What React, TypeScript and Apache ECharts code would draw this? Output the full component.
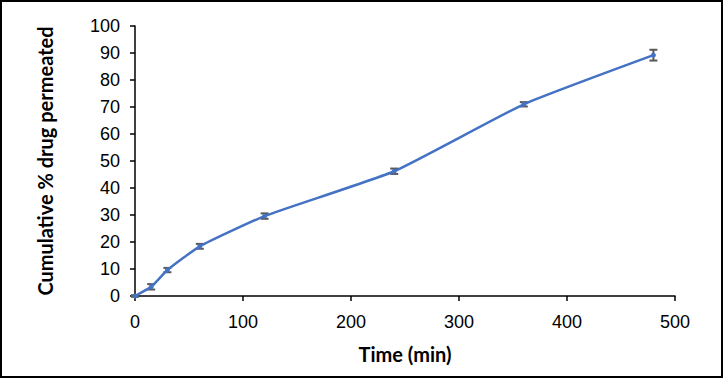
import React, { useEffect, useRef } from "react";
import * as echarts from "echarts";

const times = [0, 15, 30, 60, 120, 240, 360, 480];
const permeated = [0, 3.4, 9.6, 18.4, 29.6, 46.2, 71.0, 89.2];
const errors = [0.3, 1.0, 0.8, 0.9, 1.0, 1.0, 0.8, 2.0];
const xTicks = [0, 100, 200, 300, 400, 500];
const yTicks = [0, 10, 20, 30, 40, 50, 60, 70, 80, 90, 100];

export default function App() {
  const ref = useRef<HTMLDivElement>(null);
  useEffect(() => {
    if (!ref.current) return;
    const chart = echarts.init(ref.current, undefined, { renderer: "svg" });
    const lineData = times.map((t, i) => [t, permeated[i]]);
    const errData = times.map((t, i) => [t, permeated[i] - errors[i], permeated[i] + errors[i]]);
    chart.setOption({
      animation: false,
      backgroundColor: "#ffffff",
      graphic: [
        {
          type: "rect",
          shape: { x: 1, y: 1, width: 721, height: 376 },
          style: { fill: "none", stroke: "#000000", lineWidth: 2 },
          silent: true,
        },
      ],
      grid: { left: 135, right: 49, top: 26, bottom: 84, containLabel: false },
      xAxis: {
        type: "value",
        min: xTicks[0],
        max: xTicks[xTicks.length - 1],
        interval: 100,
        name: "Time (min)",
        nameLocation: "middle",
        nameGap: 48,
        nameTextStyle: { fontFamily: "Lato", fontWeight: "bold", fontSize: 20, color: "#000" },
        axisLine: { show: true, lineStyle: { color: "#000", width: 1.5 } },
        axisTick: { show: true, inside: false, length: 5, lineStyle: { color: "#000", width: 1.5 } },
        axisLabel: { fontFamily: "Liberation Sans", fontSize: 18, color: "#000", margin: 17 },
        splitLine: { show: false },
      },
      yAxis: {
        type: "value",
        min: yTicks[0],
        max: yTicks[yTicks.length - 1],
        interval: 10,
        name: "Cumulative % drug permeated",
        nameLocation: "middle",
        nameGap: 80,
        nameRotate: 90,
        nameTextStyle: { fontFamily: "Lato", fontWeight: "bold", fontSize: 20, color: "#000" },
        axisLine: { show: true, lineStyle: { color: "#000", width: 1.5 } },
        axisTick: { show: true, inside: false, length: 5, lineStyle: { color: "#000", width: 1.5 } },
        axisLabel: { fontFamily: "Liberation Sans", fontSize: 18, color: "#000", margin: 15 },
        splitLine: { show: false },
      },
      series: [
        {
          type: "line",
          data: lineData,
          smooth: 0.15,
          symbol: "circle",
          symbolSize: 5,
          lineStyle: { color: "#4472C4", width: 2.5 },
          itemStyle: { color: "#4472C4" },
          z: 3,
        },
        {
          type: "custom",
          data: errData,
          z: 2,
          renderItem: (params: any, api: any) => {
            const x = api.value(0);
            const lo = api.coord([x, api.value(1)]);
            const hi = api.coord([x, api.value(2)]);
            const cap = 4;
            const style = { stroke: "#595959", lineWidth: 2 };
            return {
              type: "group",
              children: [
                { type: "line", shape: { x1: lo[0], y1: lo[1], x2: hi[0], y2: hi[1] }, style },
                { type: "line", shape: { x1: lo[0] - cap, y1: lo[1], x2: lo[0] + cap, y2: lo[1] }, style },
                { type: "line", shape: { x1: hi[0] - cap, y1: hi[1], x2: hi[0] + cap, y2: hi[1] }, style },
              ],
            };
          },
        },
      ],
    });
    return () => chart.dispose();
  }, []);
  return <div ref={ref} style={{ width: 724, height: 380, position: "absolute", left: 0, top: 0 }} />;
}
